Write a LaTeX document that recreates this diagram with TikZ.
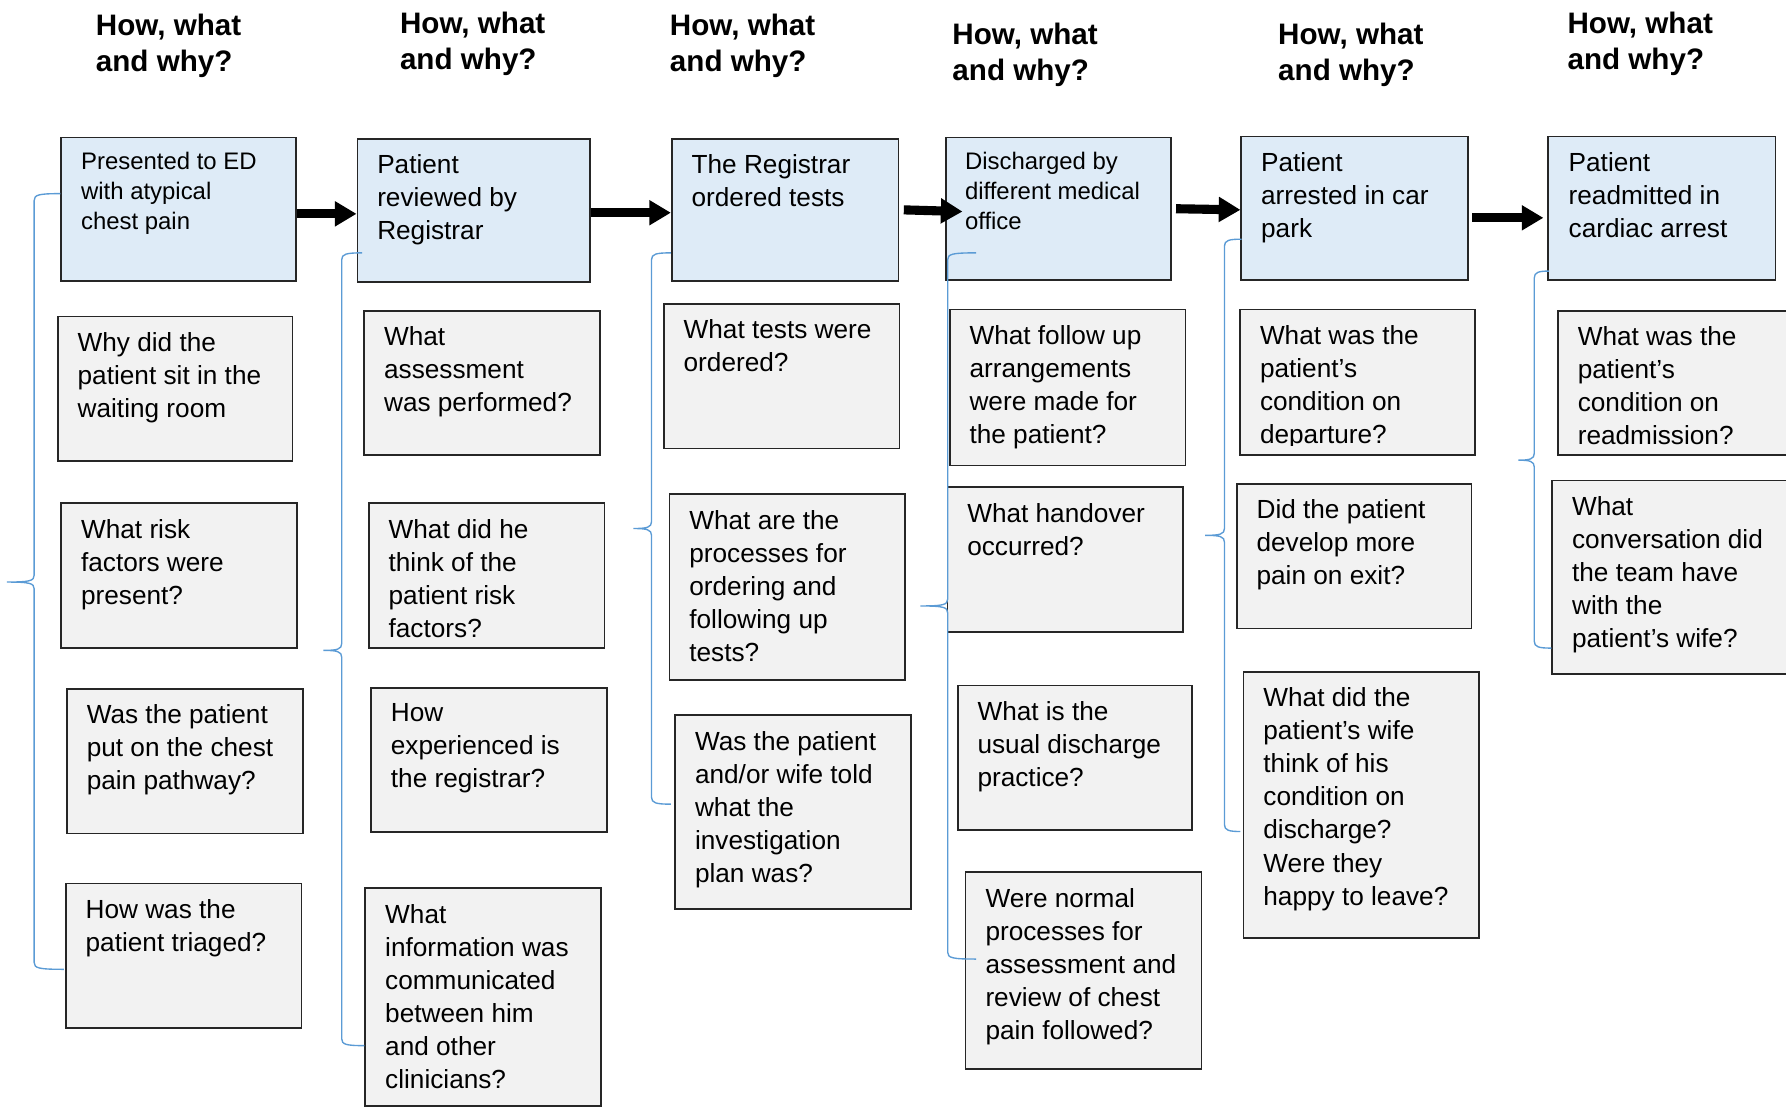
\documentclass[tikz,border=0pt]{standalone}
\usepackage{fontspec}
\setmainfont{Liberation Sans}
\usetikzlibrary{arrows.meta}
\definecolor{boxblue}{HTML}{DEEBF7}
\definecolor{boxgray}{HTML}{F2F2F2}
\definecolor{bracec}{HTML}{5B9BD5}
\newcommand\bx[6]{\node[#2, minimum width={#5pt-#3pt}, minimum height={#6pt-#4pt}] (#1) at (#3,#4) {};}
\newcommand\brc[7]{\draw[brc] (#1,#4) .. controls (#2+4,#4) and (#2,#4+1) .. (#2,#4+6) -- (#2,#5-6) .. controls (#2,#5-1) and (#2-4,#5) .. (#3,#5) .. controls (#2-4,#5) and (#2,#5+1) .. (#2,#5+6) -- (#2,#6-6) .. controls (#2,#6-1) and (#2+4,#6) .. (#7,#6);}
\begin{document}
\begin{tikzpicture}[x=1pt,y=-1pt,
  box/.style={draw=black!85, line width=1.5pt, inner sep=0pt, anchor=north west},
  evbox/.style={box, fill=boxblue},
  qbox/.style={box, fill=boxgray},
  qtxt/.style={anchor=north west, inner sep=0pt, align=left, font=\fontsize{23}{29}\selectfont, execute at begin node=\strut, yshift=-4.5pt},
  stxt/.style={anchor=north west, inner sep=0pt, align=left, font=\fontsize{21}{26}\selectfont, execute at begin node=\strut, yshift=-1.5pt},
  head/.style={anchor=north west, inner sep=0pt, align=left, font=\bfseries\fontsize{26}{31.5}\selectfont, execute at begin node=\strut, yshift=-3pt},
  flow/.style={line width=8pt, -{Triangle[length=19pt,width=21pt]}},
  brc/.style={draw=bracec, line width=1.2pt}]
\useasboundingbox (0,0) rectangle (1568,976);
\clip (0,0) rectangle (1568,976);

% headers
\node[head] (h1) at (84,9.3) {How, what\\and why?};
\node[head] (h2) at (351,7.8) {How, what\\and why?};
\node[head] (h3) at (588,9.3) {How, what\\and why?};
\node[head] (h4) at (836,16.8) {How, what\\and why?};
\node[head] (h5) at (1122,17.3) {How, what\\and why?};
\node[head] (h6) at (1376,7.8) {How, what\\and why?};

% event boxes
\bx{T1}{evbox}{53}{120}{259}{246}
\bx{T2}{evbox}{313}{121}{517}{247}
\bx{T3}{evbox}{589}{121}{788}{246}
\bx{T4}{evbox}{830}{120}{1027}{245}
\bx{T5}{evbox}{1089}{119}{1288}{245}
\bx{T6}{evbox}{1358}{119}{1558}{245}
\node[stxt] (t1) at (71,132.3) {Presented to ED\\with atypical\\chest pain};
\node[qtxt] (t2) at (331,131.2) {Patient\\reviewed by\\Registrar};
\node[qtxt] (t3) at (607,131.2) {The Registrar\\ordered tests};
\node[stxt] (t4) at (847,132.3) {Discharged by\\different medical\\office};
\node[qtxt] (t5) at (1107,129.2) {Patient\\arrested in car\\park};
\node[qtxt] (t6) at (1377,129.2) {Patient\\readmitted in\\cardiac arrest};

% question boxes
\bx{Q1a}{qbox}{50}{277}{256}{404}
\bx{Q1b}{qbox}{53}{441}{260}{568}
\bx{Q1c}{qbox}{58}{604}{265}{731}
\bx{Q1d}{qbox}{57}{775}{264}{902}
\bx{Q2a}{qbox}{319}{272}{526}{399}
\bx{Q2b}{qbox}{323}{441}{530}{568}
\bx{Q2c}{qbox}{325}{603}{532}{730}
\bx{Q2d}{qbox}{320}{779}{527}{970}
\bx{Q3a}{qbox}{582}{266}{789}{393}
\bx{Q3b}{qbox}{587}{433}{794}{596}
\bx{Q3c}{qbox}{592}{627}{799}{797}
\bx{Q4a}{qbox}{833}{271}{1040}{408}
\bx{Q4b}{qbox}{831}{427}{1038}{554}
\bx{Q4c}{qbox}{840}{601}{1046}{728}
\bx{Q4d}{qbox}{847}{765}{1054}{938}
\bx{Q5a}{qbox}{1088}{271}{1294}{399}
\bx{Q5b}{qbox}{1085}{424}{1291}{551}
\bx{Q5c}{qbox}{1091}{589}{1298}{823}
\bx{Q6a}{qbox}{1367}{272}{1580}{399}
\bx{Q6b}{qbox}{1362}{421}{1580}{591}

\node[qtxt] (q1a) at (68,287.2) {Why did the\\patient sit in the\\waiting room};
\node[qtxt] (q1b) at (71,451.2) {What risk\\factors were\\present?};
\node[qtxt] (q1c) at (76,614.2) {Was the patient\\put on the chest\\pain pathway?};
\node[qtxt] (q1d) at (75,785.2) {How was the\\patient triaged?};
\node[qtxt] (q2a) at (337,282.2) {What\\assessment\\was performed?};
\node[qtxt] (q2b) at (341,451.2) {What did he\\think of the\\patient risk\\factors?};
\node[qtxt] (q2c) at (343,613.2) {How\\experienced is\\the registrar?};
\node[qtxt] (q2d) at (338,789.2) {What\\information was\\communicated\\between him\\and other\\clinicians?};
\node[qtxt] (q3a) at (600,276.2) {What tests were\\ordered?};
\node[qtxt] (q3b) at (605,443.2) {What are the\\processes for\\ordering and\\following up\\tests?};
\node[qtxt] (q3c) at (610,637.2) {Was the patient\\and/or wife told\\what the\\investigation\\plan was?};
\node[qtxt] (q4a) at (851,281.2) {What follow up\\arrangements\\were made for\\the patient?};
\node[qtxt] (q4b) at (849,437.2) {What handover\\occurred?};
\node[qtxt] (q4c) at (858,611.2) {What is the\\usual discharge\\practice?};
\node[qtxt] (q4d) at (865,775.2) {Were normal\\processes for\\assessment and\\review of chest\\pain followed?};
\begin{scope}
\clip (1089,272) rectangle (1293,391);
\node[qtxt] (q5a) at (1106,281.2) {What was the\\patient’s\\condition on\\departure?};
\end{scope}
\node[qtxt] (q5b) at (1103,434.2) {Did the patient\\develop more\\pain on exit?};
\node[qtxt] (q5c) at (1109,599.2) {What did the\\patient’s wife\\think of his\\condition on\\discharge?\\Were they\\happy to leave?};
\node[qtxt] (q6a) at (1385,282.2) {What was the\\patient’s\\condition on\\readmission?};
\node[qtxt] (q6b) at (1380,431.2) {What\\conversation did\\the team have\\with the\\patient’s wife?};

% flow arrows
\draw[flow] ([yshift=-4pt]T1.east) -- ([yshift=-3pt]T2.west);
\draw[flow] ([yshift=-2pt]T2.east) -- ([yshift=-2.5pt]T3.west);
\draw[flow] ([xshift=4pt]T3.east) -- ([xshift=15pt,yshift=-2.5pt]T4.west);
\draw[flow] ([xshift=4pt]T4.east) -- ([yshift=-1.5pt]T5.west);
\draw[flow] ([xshift=3pt,yshift=-8.5pt]T5.east) -- ([xshift=-3pt,yshift=-8.5pt]T6.west);

% braces
\brc{53}{30}{6}{170}{511}{851}{56}
\brc{318}{300}{284}{222}{571}{918}{320}
\brc{589}{572}{556}{222}{464}{706}{589}
\brc{857}{832}{808}{222}{532}{842}{857}
\brc{1090}{1075}{1058}{210}{470}{730}{1089}
\brc{1360}{1347}{1333}{238}{404}{569}{1362}
\end{tikzpicture}
\end{document}
